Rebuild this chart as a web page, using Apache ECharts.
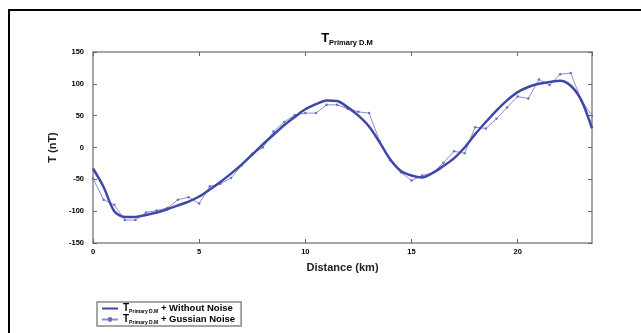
<!DOCTYPE html>
<html><head><meta charset="utf-8">
<script src="https://cdn.jsdelivr.net/npm/echarts@6/dist/echarts.min.js"></script>
<style>html,body{margin:0;padding:0;background:#fff}#c{width:641px;height:333px}</style>
</head><body><div id="c"></div>
<script>
const distance = [0,0.5,1,1.5,2,2.5,3,3.5,4,4.5,5,5.5,6,6.5,7,7.5,8,8.5,9,9.5,10,10.5,11,11.5,12,12.5,13,13.5,14,14.5,15,15.5,16,16.5,17,17.5,18,18.5,19,19.5,20,20.5,21,21.5,22,22.5,23,23.5];
const withoutNoise = [-33,-62,-100,-109,-109,-106,-102,-97,-91,-85,-77,-66,-54,-41,-27,-11,5,20,35,48,60,68,74,73,63,50,33,8,-19,-37,-44,-47,-40,-29,-17,0,21,40,58,74,87,95,100,103,105,97,74,30];
const gaussianNoise = [-49,-82,-90,-114,-114,-102,-99,-95,-82,-78,-88,-61,-57,-48,-28,-10,0,25,40,51,54,54,67,67,61,56,54,10,-20,-39,-52,-44,-40,-24,-6,-9,32,30,45,63,80,77,107,98,115,117,74,50];
const yTicks = [-150,-100,-50,0,50,100,150];
const xTicks = [0,5,10,15,20];

const chart = echarts.init(document.getElementById('c'));
const lbl = {color:'#000', fontSize:7.5, fontWeight:'bold', fontFamily:'Liberation Sans'};
const axLine = {show:true, onZero:false, lineStyle:{color:'#888', width:1.5}};
const tick = {show:true, inside:true, length:4, lineStyle:{color:'#666', width:1}};
chart.setOption({
  animation:false,
  backgroundColor:'#fff',
  title:{
    text:'{t|T}{s|Primary D.M}', left:342, textAlign:'center', top:26,
    textStyle:{rich:{
      t:{fontSize:13, fontWeight:'bold', fontFamily:'Liberation Sans', color:'#000', lineHeight:14},
      s:{fontSize:7.5, fontWeight:'bold', fontFamily:'Liberation Sans', color:'#000', padding:[9,0,0,0], lineHeight:14}
    }}
  },
  grid:{left:93, right:49, top:52, bottom:90},
  xAxis:[{
    type:'value', min:0, max:23.5, interval:5,
    name:'Distance (km)', nameLocation:'middle', nameGap:19,
    nameTextStyle:{fontSize:11, fontWeight:'bold', fontFamily:'Liberation Sans', color:'#222'},
    axisLine:axLine, axisTick:tick, splitLine:{show:false},
    axisLabel:Object.assign({margin:5, showMaxLabel:false, formatter:v=>xTicks.includes(v)?String(v):''}, lbl)
  },{
    type:'value', min:0, max:23.5, interval:5, position:'top',
    axisLine:axLine, axisTick:tick, axisLabel:{show:false}, splitLine:{show:false}
  }],
  yAxis:[{
    type:'value', min:-150, max:150, interval:50,
    name:'T (nT)', nameLocation:'middle', nameGap:26,
    nameTextStyle:{fontSize:11, fontWeight:'bold', fontFamily:'Liberation Sans', color:'#222'},
    axisLine:axLine, axisTick:tick, splitLine:{show:false},
    axisLabel:Object.assign({margin:9, formatter:v=>yTicks.includes(v)?String(v):''}, lbl)
  },{
    type:'value', min:-150, max:150, interval:50, position:'right',
    axisLine:axLine, axisTick:tick, axisLabel:{show:false}, splitLine:{show:false}
  }],
  legend:{
    orient:'vertical', left:97, top:302, itemGap:0, itemWidth:16, itemHeight:6,
    padding:[1,6,1,4], borderColor:'#888', borderWidth:1.5,
    data:[{name:'a', itemStyle:{opacity:0}}, {name:'b'}],
    formatter:function(n){return n==='a'?'{t|T}{s|Primary D.M}{r| + Without Noise}':'{t|T}{s|Primary D.M}{r| + Gussian Noise}';},
    textStyle:{rich:{
      t:{fontSize:10, fontWeight:'bold', fontFamily:'Liberation Sans', color:'#000', lineHeight:13},
      s:{fontSize:5, fontWeight:'bold', fontFamily:'Liberation Sans', color:'#000', padding:[6,0,0,0], lineHeight:13},
      r:{fontSize:9.5, fontWeight:'bold', fontFamily:'Liberation Sans', color:'#000', lineHeight:13}
    }}
  },
  series:[{
    name:'b', type:'line', data:distance.map((x,i)=>[x,gaussianNoise[i]]),
    symbol:'circle', symbolSize:2.5, showSymbol:true,
    lineStyle:{color:'#8a90cf', width:1}, itemStyle:{color:'#6a70bb'}, z:2
  },{
    name:'a', type:'line', data:distance.map((x,i)=>[x,withoutNoise[i]]),
    symbol:'none', smooth:0.3,
    lineStyle:{color:'#3f48a6', width:2.5}, itemStyle:{color:'#3f48a6'}, z:3
  }],
  graphic:[{
    type:'rect', shape:{x:9, y:10, width:650, height:340},
    style:{fill:'none', stroke:'#000', lineWidth:2}, silent:true
  }]
});
</script></body></html>
